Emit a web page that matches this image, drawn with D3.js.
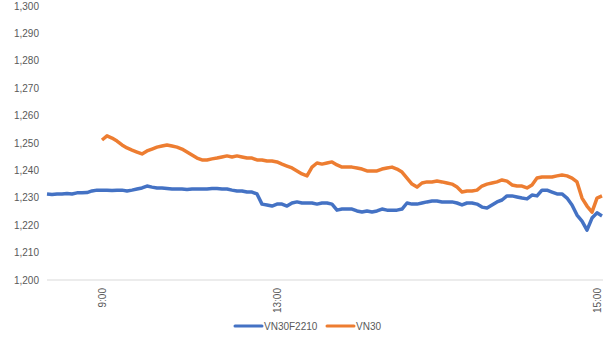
<!DOCTYPE html>
<html><head><meta charset="utf-8">
<script src="https://cdn.jsdelivr.net/npm/d3@7"></script>
<style>body{margin:0;background:#fff}svg{display:block}</style>
</head><body><svg id="c" width="610" height="346"></svg>
<script>
const seriesNames = ["VN30F2210", "VN30"];
const seriesColors = ["#4472C4", "#ED7D31"];
const yTicks = [1200,1210,1220,1230,1240,1250,1260,1270,1280,1290,1300];
const xTickLabels = ["9:00", "13:00", "15:00"];
const xTickIndex = [11, 46, 110];
const vn30f = [
1231.4,1231.2,1231.4,1231.4,1231.6,1231.4,1231.8,1231.8,1231.9,1232.5,
1232.8,1232.8,1232.8,1232.7,1232.8,1232.8,1232.5,1232.8,1233.2,1233.6,
1234.3,1233.9,1233.6,1233.6,1233.4,1233.2,1233.2,1233.2,1233.0,1233.2,
1233.2,1233.2,1233.2,1233.4,1233.4,1233.2,1233.2,1232.8,1232.5,1232.5,
1232.1,1232.1,1231.4,1227.7,1227.4,1227.0,1227.7,1227.7,1227.0,1228.1,
1228.5,1228.1,1228.1,1228.1,1227.7,1228.1,1228.1,1227.7,1225.5,1225.9,
1225.9,1225.9,1225.2,1224.8,1225.2,1224.8,1225.2,1225.9,1225.5,1225.5,
1225.5,1225.9,1228.1,1227.7,1227.7,1228.1,1228.5,1228.8,1228.8,1228.5,
1228.5,1228.5,1228.1,1227.4,1228.1,1228.1,1227.7,1226.6,1226.3,1227.4,
1228.5,1229.2,1230.7,1230.7,1230.3,1229.9,1229.6,1231.0,1230.7,1232.8,
1232.8,1232.1,1231.4,1231.4,1229.9,1227.4,1223.7,1221.5,1218.2,1222.6,
1224.5,1223.4
];
const vn30 = [
null,null,null,null,null,null,null,null,null,null,null,
1251.1,1252.6,1251.8,1250.7,1249.3,1248.2,1247.4,1246.7,1246.0,1247.1,
1247.8,1248.5,1248.9,1249.3,1248.9,1248.5,1247.8,1246.7,1245.6,1244.5,
1243.8,1243.8,1244.2,1244.5,1244.9,1245.3,1244.9,1245.3,1244.9,1244.5,
1244.5,1243.8,1243.8,1243.4,1243.4,1243.1,1242.3,1241.6,1240.9,1239.8,
1238.7,1238.0,1241.2,1242.7,1242.3,1242.7,1243.1,1242.0,1241.2,1241.2,
1241.2,1240.9,1240.5,1239.8,1239.8,1239.8,1240.5,1240.9,1241.2,1240.5,
1239.4,1237.2,1235.0,1233.9,1235.4,1235.8,1235.8,1236.1,1235.8,1235.4,
1235.0,1233.9,1232.1,1232.5,1232.5,1232.8,1234.3,1235.0,1235.4,1235.8,
1236.5,1236.1,1234.7,1234.3,1234.3,1233.6,1234.7,1237.2,1237.6,1237.6,
1237.6,1238.0,1238.3,1238.0,1237.2,1235.8,1229.9,1227.0,1224.8,1229.9,
1230.7
];
const series = [vn30f, vn30];

const svg = d3.select("#c");
const x = d3.scaleLinear().domain([0, vn30f.length - 1]).range([47, 602]);
const y = d3.scaleLinear().domain([1200, 1300]).range([280, 6]);
const fmt = d3.format(",");
const font = "'Liberation Sans', Arial, sans-serif";

// baseline
svg.append("line").attr("x1", 47).attr("x2", 603).attr("y1", y(1200)).attr("y2", y(1200))
  .attr("stroke", "#d9d9d9").attr("stroke-width", 1);

// y labels
svg.append("g").selectAll("text").data(yTicks).join("text")
  .attr("x", 39).attr("y", d => y(d)).attr("dy", "0.35em")
  .attr("text-anchor", "end").attr("font-family", font).attr("font-size", 10)
  .attr("fill", "#595959").text(d => fmt(d));

// x labels (rotated)
svg.append("g").selectAll("text").data(xTickLabels).join("text")
  .attr("transform", (d, i) => `translate(${x(xTickIndex[i])},288) rotate(-90)`)
  .attr("text-anchor", "end").attr("dy", "0.35em")
  .attr("font-family", font).attr("font-size", 10).attr("fill", "#595959").text(d => d);

// lines
const line = d3.line().defined(d => d != null).x((d, i) => x(i)).y(d => y(d)).curve(d3.curveLinear);
series.forEach((s, k) => {
  svg.append("path").datum(s).attr("d", line).attr("fill", "none")
    .attr("stroke", seriesColors[k]).attr("stroke-width", 3.5).attr("stroke-linejoin", "round");
});

// legend
const legX = [235, 327];
const lg = svg.append("g").selectAll("g").data(seriesNames).join("g")
  .attr("transform", (d, i) => `translate(${legX[i]},326)`);
lg.append("line").attr("x1", 0).attr("x2", 27).attr("y1", 0).attr("y2", 0)
  .attr("stroke", (d, i) => seriesColors[i]).attr("stroke-width", 3).attr("stroke-linecap", "round");
lg.append("text").attr("x", 29).attr("dy", "0.35em").attr("font-family", font).attr("font-size", 10)
  .attr("fill", "#595959").text(d => d);
</script></body></html>
